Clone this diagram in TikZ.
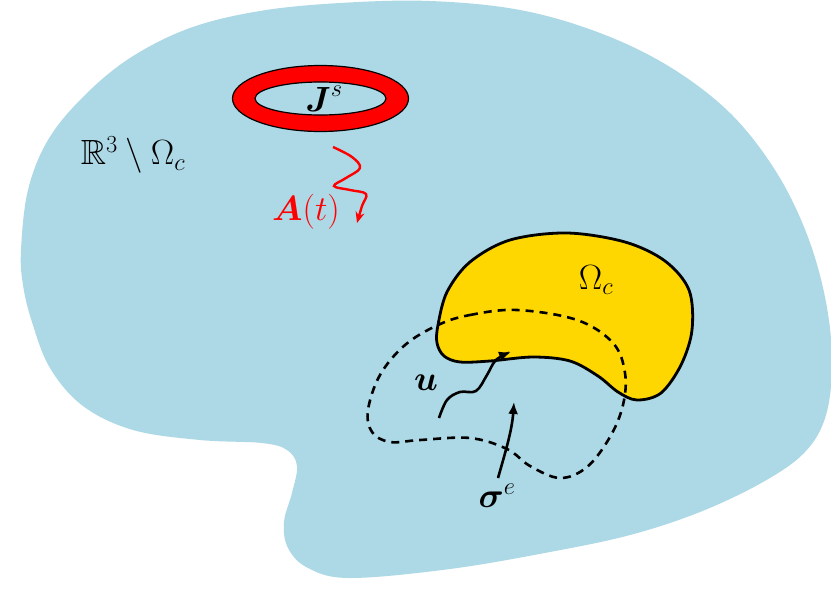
\RequirePackage{fix-cm}
\documentclass[tikz,border=0pt]{standalone}
\usepackage{amsmath,amssymb}
\usetikzlibrary{arrows.meta}
\definecolor{blobblue}{RGB}{173,216,230}
\definecolor{condgold}{RGB}{255,215,0}
\begin{document}
\begin{tikzpicture}[x=1pt,y=-1pt,
  lbl/.style={font=\fontsize{35}{42}\selectfont, inner sep=0pt},
  arr/.style={line width=2.6pt, -{Latex[length=12pt,width=10pt]}},
  redarr/.style={red, line width=2.4pt, -{Stealth[length=11pt,width=9pt]}},
]
\useasboundingbox (0,0) rectangle (831,592);
\fill[white] (0,0) rectangle (831,592);
\begin{scope}
\clip (0,0) rectangle (831,592);
\fill[blobblue] plot[smooth cycle, tension=0.6] coordinates {
 (21,250) (28,190) (48,140) (83,97) (130,58) (190,28) (260,11) (340,3) (430,1)
 (520,10) (600,33) (670,67) (730,113) (775,170) (806,232) (825,297) (832,360)
 (826,415) (805,452) (763,482) (700,512) (630,535) (550,552) (450,569)
 (350,578) (308,568) (288,548) (284,522) (292,493) (297,466) (287,450) (262,443)
 (200,440) (133,430) (83,406) (50,368) (32,322) (23,285)};
\end{scope}

% source ring
\fill[red, even odd rule] (320.5,98.5) ellipse [x radius=88, y radius=33]
  (320.5,98.5) ellipse [x radius=65.5, y radius=16.5];
\draw[line width=1.2pt] (320.5,98.5) ellipse [x radius=88, y radius=33];
\draw[line width=1.2pt] (320.5,98.5) ellipse [x radius=65.5, y radius=16.5];
\node[lbl] (js) at (324,99) {$\boldsymbol{J}^s$};

% red wavy arrow
\coordinate (as) at (333,147);
\coordinate (ae) at (357,223);
\draw[redarr] plot[smooth, tension=0.6] coordinates {
 (as) (352,157) (360,168) (346,178) (334,186) (350,190) (366,194) (362,206) (ae)};
\node[lbl, red] (at) at (306,212) {$\boldsymbol{A}(t)$};

\node[lbl] (ext) at (133,155) {$\mathbb{R}^3\setminus\Omega_c$};

% conductor
\filldraw[fill=condgold, draw=black, line width=2.8pt] plot[smooth cycle, tension=0.55] coordinates {
 (438,325) (447,292) (470,262) (510,240) (567,233) (625,242) (665,261) (689,290)
 (692,330) (681,365) (661,393) (637,400) (618,392) (598,376) (570,361) (533,357)
 (490,361) (460,362) (444,356) (437,343)};
\node[lbl] (om) at (596,280) {$\Omega_c$};

% dashed loop
\draw[line width=2.6pt, dash pattern=on 8pt off 6pt] plot[smooth cycle, tension=0.6] coordinates {
 (438,325) (470,315) (517,310) (577,320) (613,343) (625,373) (623,405) (610,437)
 (587,467) (560,478) (530,466) (507,449) (470,438) (420,440) (390,442) (372,432)
 (368,410) (380,375) (405,345)};

% u arrow
\coordinate (us) at (439,418);
\coordinate (ue) at (511,352);
\draw[arr] plot[smooth, tension=0.6] coordinates {
 (us) (447,400) (460,392) (476,391) (487,375) (496,360) (ue)};
\node[lbl] (u) at (426,383) {$\boldsymbol{u}$};

% sigma arrow
\coordinate (ss) at (498,478);
\coordinate (se) at (514,402);
\draw[arr] (ss) .. controls (506,450) and (512,430) .. (se);
\node[lbl] (sig) at (497,496) {$\boldsymbol{\sigma}^e$};
\end{tikzpicture}
\end{document}
